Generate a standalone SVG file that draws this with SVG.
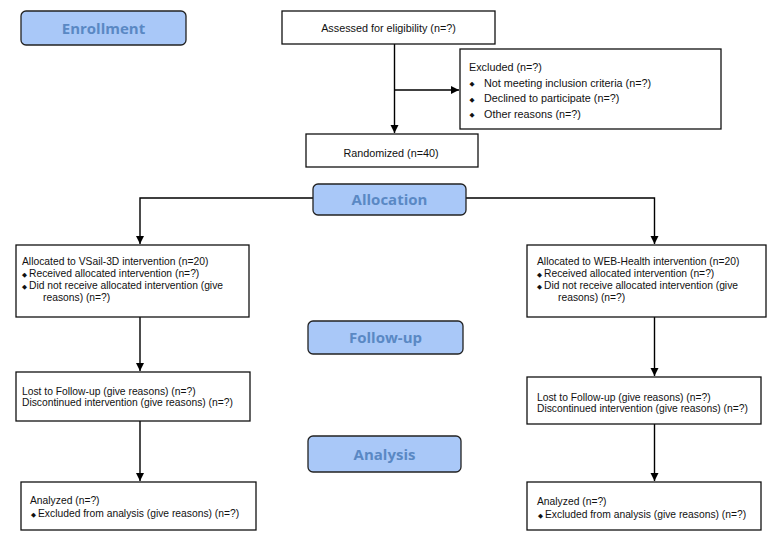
<svg xmlns="http://www.w3.org/2000/svg" width="770" height="541" viewBox="0 0 770 541">
<defs>
<marker id="arr" markerUnits="userSpaceOnUse" markerWidth="9" markerHeight="9" refX="8" refY="4.5" orient="auto">
<path d="M0,0.5 L8,4.5 L0,8.5 Z" fill="#000"/>
</marker>
<style>
.hdr{fill:#a9c8f8;stroke:#222;stroke-width:1.3}
.htx{font-family:"Open Sans","DejaVu Sans",sans-serif;font-weight:bold;font-size:15px;fill:#5a88c4;text-anchor:middle}
.box{fill:#fff;stroke:#111;stroke-width:1.3}
.t{font-family:"Liberation Sans",Arial,sans-serif;font-size:10.3px;fill:#111}
.tl{font-family:"Liberation Sans",Arial,sans-serif;font-size:10.8px;fill:#111}
.b{font-size:6.5px;font-family:"DejaVu Sans",sans-serif}
.c{fill:none;stroke:#000;stroke-width:1.4}
</style>
</defs>
<rect width="770" height="541" fill="#fff"/>
<g id="connectors">
<path class="c" d="M394.5,44 V133" marker-end="url(#arr)"/>
<path class="c" d="M394.5,90 H459" marker-end="url(#arr)"/>
<path class="c" d="M313,198 H140 V244" marker-end="url(#arr)"/>
<path class="c" d="M466,198 H654.5 V244" marker-end="url(#arr)"/>
<path class="c" d="M140,317 V371" marker-end="url(#arr)"/>
<path class="c" d="M140,421 V481" marker-end="url(#arr)"/>
<path class="c" d="M654.5,317 V376" marker-end="url(#arr)"/>
<path class="c" d="M654.5,424 V481" marker-end="url(#arr)"/>
</g>
<g id="enrollment">
<rect class="hdr" x="21" y="11" width="165" height="34" rx="5"/>
<text class="htx" x="103.5" y="33.5">Enrollment</text>
</g>
<g id="assessed">
<rect class="box" x="282" y="11" width="213" height="33"/>
<text class="tl" x="388.5" y="32" text-anchor="middle">Assessed for eligibility (n=?)</text>
</g>
<g id="excluded">
<rect class="box" x="460" y="49" width="261" height="80"/>
<text class="tl" x="469" y="71">Excluded (n=?)</text>
<text class="tl"><tspan class="b" x="469.5" y="86">◆</tspan><tspan x="484" y="86.5">Not meeting inclusion criteria (n=?)</tspan></text>
<text class="tl"><tspan class="b" x="469.5" y="101.5">◆</tspan><tspan x="484" y="102">Declined to participate (n=?)</tspan></text>
<text class="tl"><tspan class="b" x="469.5" y="117">◆</tspan><tspan x="484" y="117.5">Other reasons (n=?)</tspan></text>
</g>
<g id="randomized">
<rect class="box" x="306" y="134" width="172" height="33"/>
<text class="tl" x="391" y="156.5" text-anchor="middle">Randomized (n=40)</text>
</g>
<g id="allocation">
<rect class="hdr" x="313" y="184" width="153" height="31" rx="5"/>
<text class="htx" x="389.5" y="205">Allocation</text>
</g>
<g id="alloc-left">
<rect class="box" x="16" y="245" width="233" height="72"/>
<text class="t" x="22" y="265">Allocated to VSail-3D intervention (n=20)</text>
<text class="t"><tspan class="b" x="22" y="276.5">◆</tspan><tspan x="29" y="277">Received allocated intervention (n=?)</tspan></text>
<text class="t"><tspan class="b" x="22" y="288.5">◆</tspan><tspan x="29" y="289">Did not receive allocated intervention (give</tspan></text>
<text class="t" x="43" y="300.5">reasons) (n=?)</text>
</g>
<g id="alloc-right">
<rect class="box" x="527" y="245" width="239" height="72"/>
<text class="t" x="537" y="265">Allocated to WEB-Health intervention (n=20)</text>
<text class="t"><tspan class="b" x="537" y="276.5">◆</tspan><tspan x="544" y="277">Received allocated intervention (n=?)</tspan></text>
<text class="t"><tspan class="b" x="537" y="288.5">◆</tspan><tspan x="544" y="289">Did not receive allocated intervention (give</tspan></text>
<text class="t" x="558" y="300.5">reasons) (n=?)</text>
</g>
<g id="followup">
<rect class="hdr" x="308" y="321" width="155" height="33" rx="5"/>
<text class="htx" x="385.5" y="343">Follow-up</text>
</g>
<g id="lost-left">
<rect class="box" x="16" y="372" width="234" height="49"/>
<text class="t" x="22" y="395">Lost to Follow-up (give reasons) (n=?)</text>
<text class="t" x="22" y="406">Discontinued intervention (give reasons) (n=?)</text>
</g>
<g id="lost-right">
<rect class="box" x="527" y="377" width="234" height="47"/>
<text class="t" x="537" y="400.5">Lost to Follow-up (give reasons) (n=?)</text>
<text class="t" x="537" y="411.5">Discontinued intervention (give reasons) (n=?)</text>
</g>
<g id="analysis">
<rect class="hdr" x="308" y="436" width="153" height="36" rx="5"/>
<text class="htx" x="384.5" y="459.5">Analysis</text>
</g>
<g id="analyzed-left">
<rect class="box" x="21" y="482" width="235" height="48"/>
<text class="t" x="30" y="504">Analyzed (n=?)</text>
<text class="t"><tspan class="b" x="31" y="516.5">◆</tspan><tspan x="38" y="517">Excluded from analysis (give reasons) (n=?)</tspan></text>
</g>
<g id="analyzed-right">
<rect class="box" x="527" y="482" width="234" height="48"/>
<text class="t" x="537" y="505">Analyzed (n=?)</text>
<text class="t"><tspan class="b" x="538" y="517.5">◆</tspan><tspan x="545" y="518">Excluded from analysis (give reasons) (n=?)</tspan></text>
</g>
</svg>
